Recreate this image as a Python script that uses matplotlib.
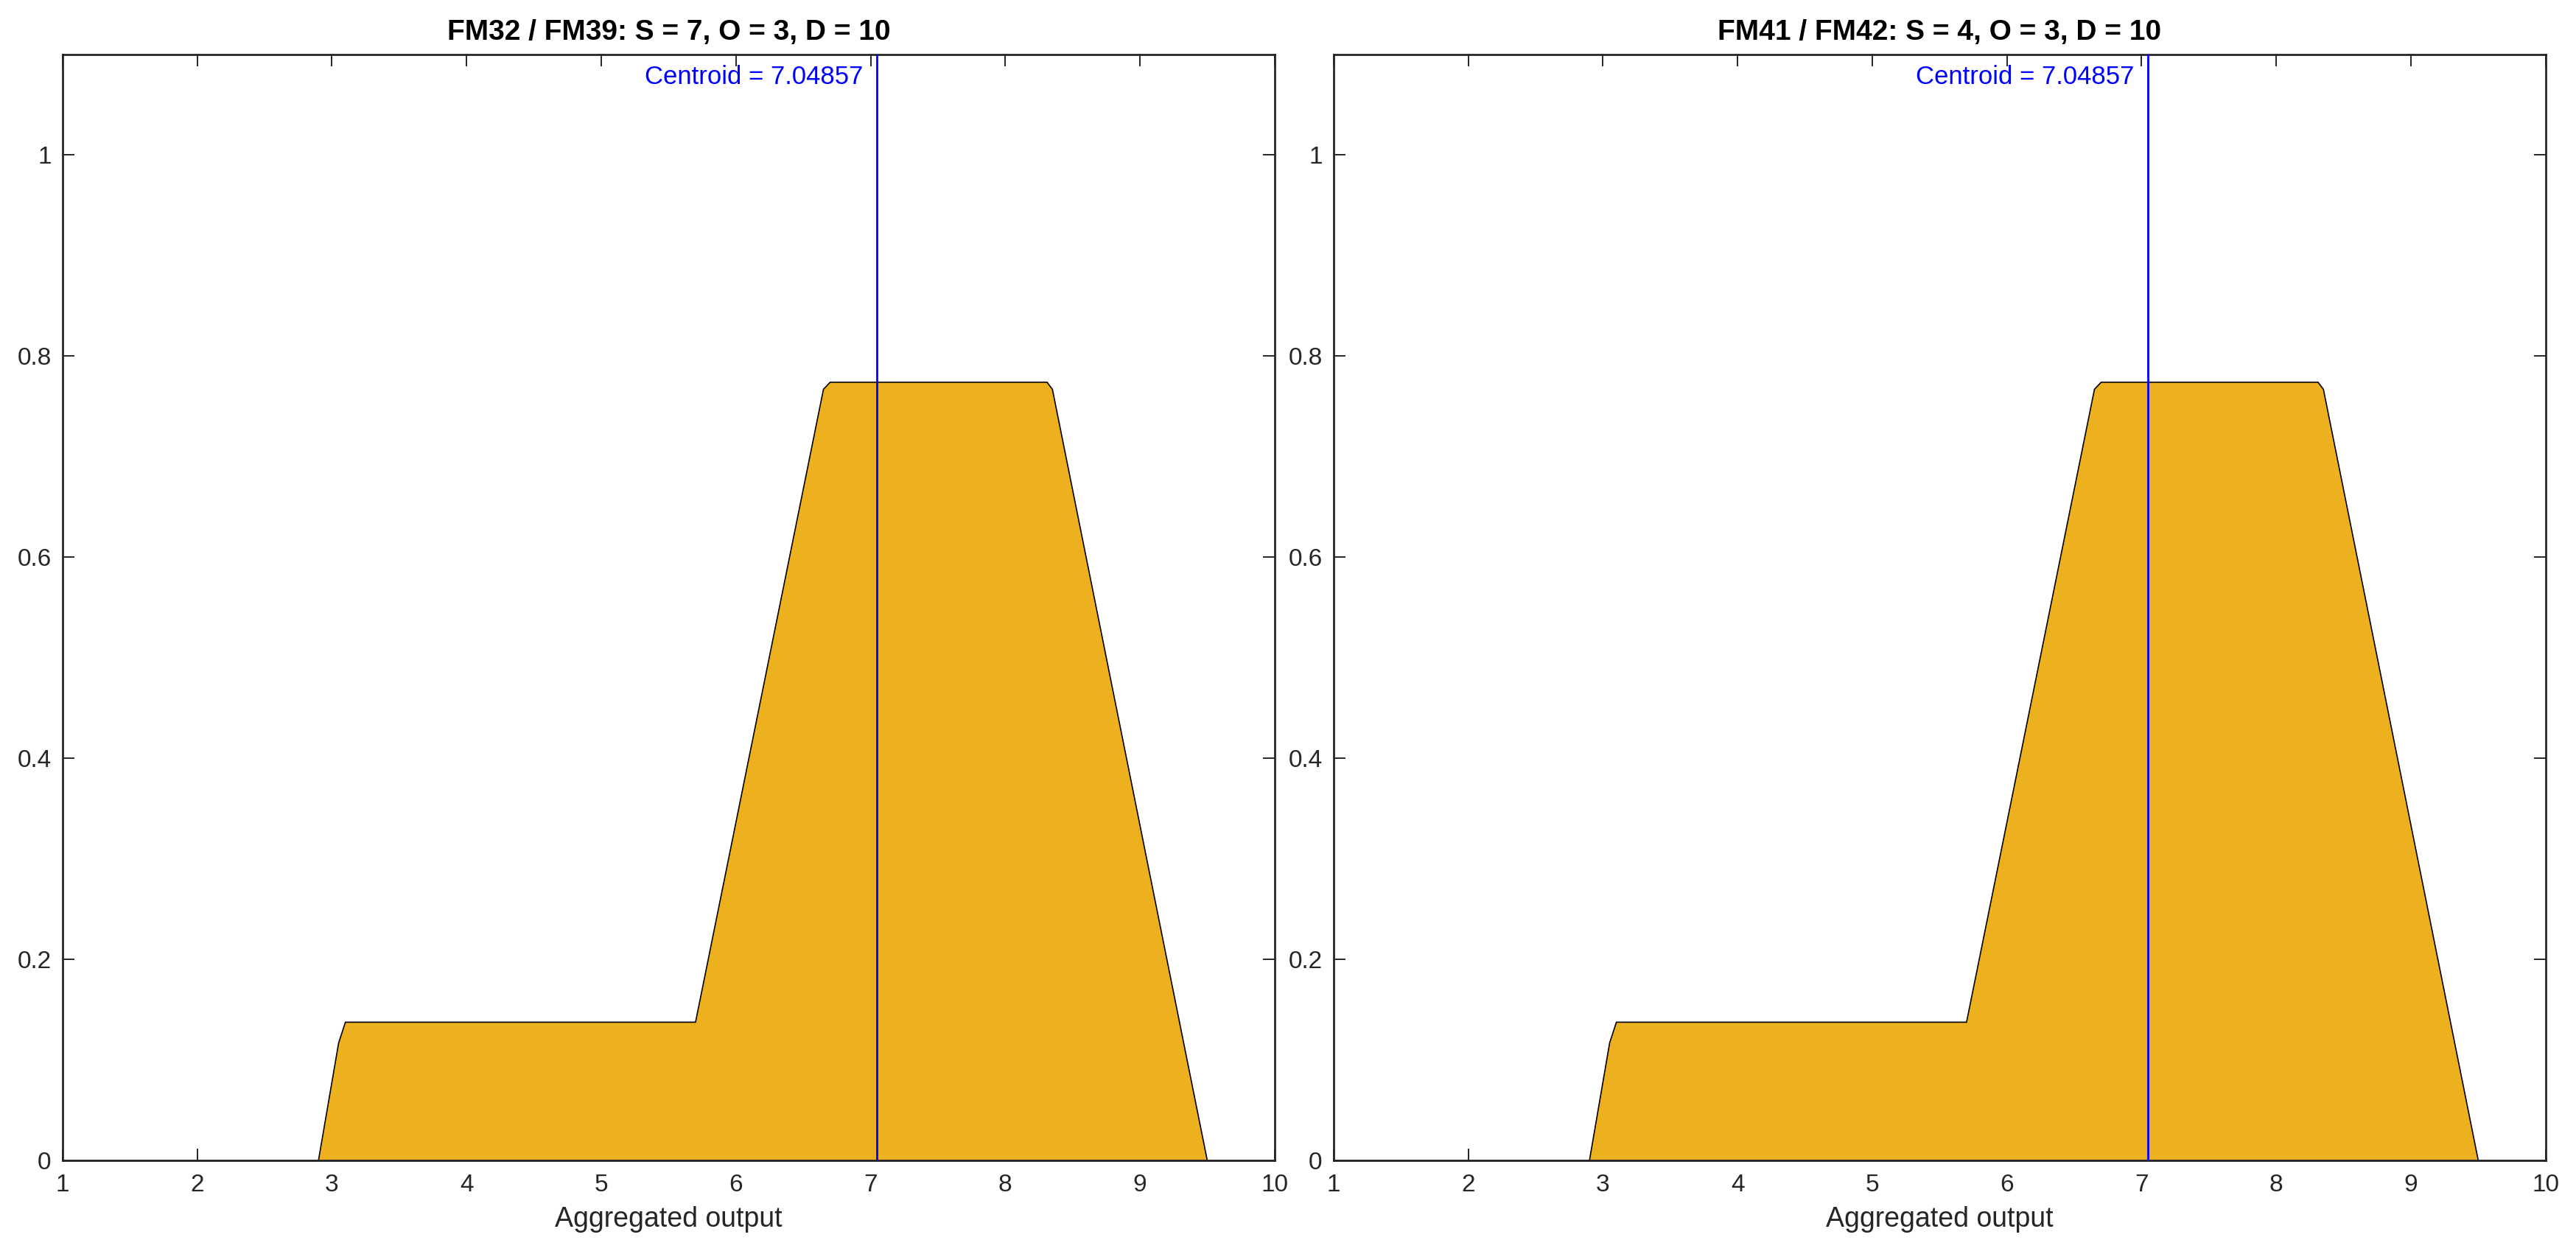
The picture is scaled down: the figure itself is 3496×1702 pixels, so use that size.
import matplotlib
matplotlib.use("Agg")
import matplotlib.pyplot as plt

plt.rcParams['font.family'] = ['Liberation Sans', 'DejaVu Sans']

# aggregated output membership (same for both panels)
agg_x = [1.0, 2.90, 3.05, 3.10, 5.70, 6.65, 6.70, 8.31, 8.35, 9.50, 10.0]
agg_y = [0.0, 0.0, 0.117, 0.1375, 0.1375, 0.767, 0.774, 0.774, 0.767, 0.0, 0.0]

titles = ['FM32 / FM39: S = 7, O = 3, D = 10', 'FM41 / FM42: S = 4, O = 3, D = 10']
centroids = [7.04857, 7.04857]

x_ticks = [1, 2, 3, 4, 5, 6, 7, 8, 9, 10]
y_ticks = [0, 0.2, 0.4, 0.6, 0.8, 1]
y_ticklabels = ['0', '0.2', '0.4', '0.6', '0.8', '1']

fill_color = '#EDB120'
axis_color = '#262626'

fig = plt.figure(figsize=(17.48, 8.51), dpi=200)
lefts = [0.0243, 0.5177]

for i in range(2):
    ax = fig.add_axes([lefts[i], 0.0746, 0.4705, 0.882])
    ax.fill(agg_x, agg_y, facecolor=fill_color, edgecolor='black', linewidth=0.6, zorder=2)
    c = centroids[i]
    ax.axvline(c, color='#0000FF', linewidth=1.0, zorder=3)
    ax.annotate('Centroid = %g' % c, xy=(c, 1.1), xytext=(-6.8, -5), textcoords='offset points',
                ha='right', va='top', color='#0000FF', fontsize=12.5)

    ax.set_xlim(1, 10)
    ax.set_ylim(0, 1.1)
    ax.set_xticks(x_ticks)
    ax.set_yticks(y_ticks)
    ax.set_yticklabels(y_ticklabels)
    ax.tick_params(direction='in', top=True, right=True, length=5.8, width=0.7,
                   color=axis_color, labelcolor=axis_color, labelsize=12)
    ax.tick_params(axis='x', pad=6.5)
    ax.tick_params(axis='y', pad=5.5)
    for sp in ax.spines.values():
        sp.set_color(axis_color)
        sp.set_linewidth(1.0)
    ax.set_xlabel('Aggregated output', fontsize=13.5, color=axis_color, labelpad=4.5)
    ax.set_title(titles[i], fontsize=14, fontweight='bold', pad=7)

fig.savefig('out.png', dpi=200)
